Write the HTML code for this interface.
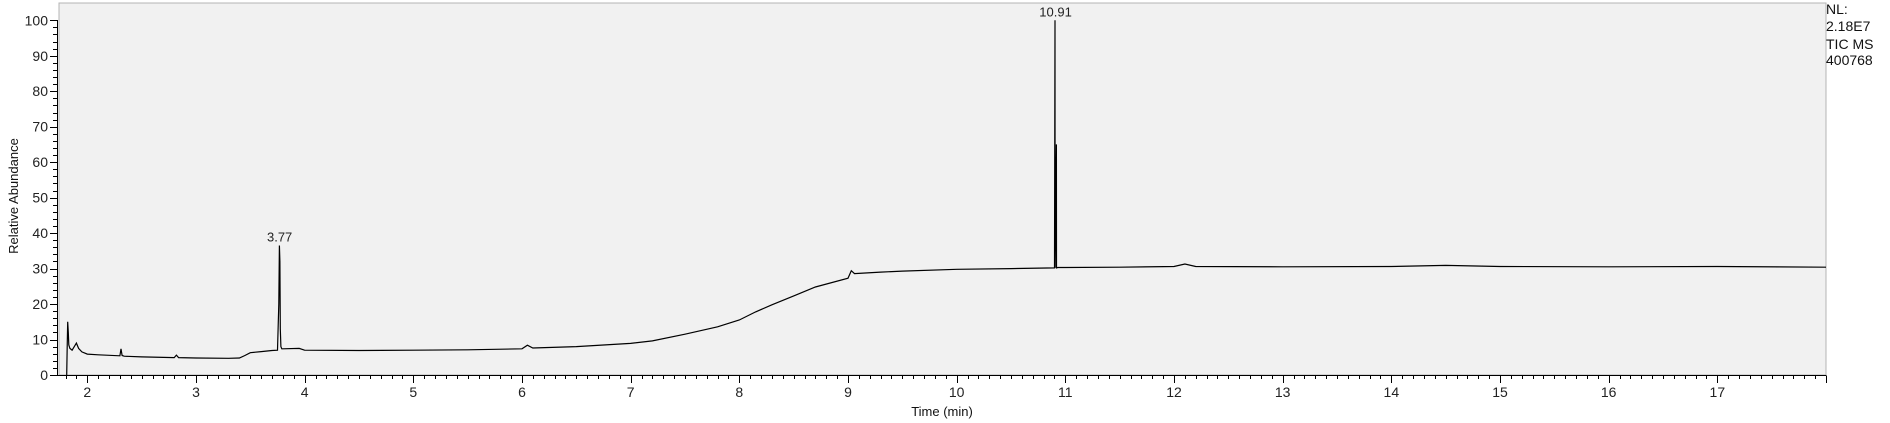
<!DOCTYPE html>
<html><head><meta charset="utf-8"><style>
html,body{margin:0;padding:0;background:#fff;}
svg{display:block;font-family:"Liberation Sans",sans-serif;}
</style></head><body>
<svg id="chart" width="1890" height="423">
<rect x="59" y="3" width="1767" height="372" fill="#f1f1f1" stroke="#b4b4b4" stroke-width="1"/>
<g id="axes"></g>
<path id="trace" fill="none" stroke="#000" stroke-width="1.2"/>
<g id="labels"></g>
<text x="1826" y="14" font-size="14" fill="#111">NL:</text>
<text x="1826" y="31" font-size="14" fill="#111">2.18E7</text>
<text x="1826" y="49" font-size="14" fill="#111">TIC  MS</text>
<text x="1826" y="65" font-size="14" fill="#111">400768</text>
<text x="942" y="416" font-size="13" text-anchor="middle" fill="#111">Time (min)</text>
<text transform="translate(18,196) rotate(-90)" font-size="13" text-anchor="middle" fill="#111">Relative Abundance</text>
</svg>
<script>
const times=[1.81,1.815,1.82,1.825,1.83,1.84,1.86,1.88,1.9,1.92,1.95,2.0,2.1,2.3,2.31,2.32,2.34,2.5,2.8,2.82,2.84,3.0,3.3,3.4,3.45,3.5,3.6,3.7,3.75,3.762,3.768,3.772,3.776,3.782,3.79,3.8,3.95,4.0,4.5,5.0,5.5,6.0,6.05,6.1,6.5,7.0,7.2,7.5,7.8,8.0,8.15,8.3,8.5,8.7,9.0,9.03,9.06,9.3,9.5,10.0,10.5,10.9,10.905,10.906,10.918,10.919,10.93,11.0,11.5,12.0,12.1,12.2,13.0,14.0,14.5,15.0,16.0,17.0,18.0];
const values=[0,8,15,12,8.5,7.5,7,8,9,7.5,6.5,5.9,5.7,5.4,7.4,5.5,5.3,5.1,4.9,5.6,4.9,4.8,4.7,4.8,5.5,6.3,6.6,6.9,7.0,20,36.5,32,13,8,7.4,7.4,7.5,7.0,6.9,7.0,7.1,7.4,8.4,7.6,8.0,8.9,9.6,11.5,13.6,15.5,17.8,19.8,22.3,24.8,27.3,29.4,28.6,29.0,29.3,29.8,30.0,30.2,100,30.2,65,30.2,30.3,30.3,30.4,30.6,31.3,30.6,30.5,30.6,30.9,30.6,30.5,30.6,30.4];
const peakTimes=[3.77,10.91];
const peakLabels=["3.77","10.91"];
const peakValues=[36.5,100];
const xTicks=[2,3,4,5,6,7,8,9,10,11,12,13,14,15,16,17];
const yTicks=[0,10,20,30,40,50,60,70,80,90,100];
const NS="http://www.w3.org/2000/svg";
function xs(t){return 87.3+(t-2)*108.67;}
function ys(v){return 375-v*3.547;}
function el(tag,attrs,parent){const e=document.createElementNS(NS,tag);for(const k in attrs)e.setAttribute(k,attrs[k]);parent.appendChild(e);return e;}
const axes=document.getElementById('axes');
let d='';
for(let i=0;i<times.length;i++){d+=(i?'L':'M')+xs(times[i]).toFixed(1)+' '+ys(values[i]).toFixed(1);}
document.getElementById('trace').setAttribute('d',d);
// axes lines
const yl=el('line',{x1:57.5,y1:20,x2:57.5,y2:375.5,stroke:'#000'},axes);


const xl=el('line',{x1:57,y1:375.5,x2:1826,y2:375.5,stroke:'#000'},axes);


let md='';
for(let v=0;v<=100;v+=2){const y=Math.round(ys(v))+0.5;md+='M'+(v%10===0?50:53)+' '+y+'H57.5';}
for(let t=1.8;t<=18.0001;t+=0.1){const x=Math.round(xs(t))+0.5;const maj=Math.abs(t-Math.round(t))<0.01;md+='M'+x+' 375.5V'+(maj?383:379);}
const tk=el('path',{d:md,stroke:'#000','stroke-width':1,fill:'none'},axes);


yTicks.forEach(v=>{const t=el('text',{x:48,y:ys(v)+5,'font-size':14,'text-anchor':'end',fill:'#222'},axes);t.textContent=v;

});
xTicks.forEach(v=>{const t=el('text',{x:xs(v),y:397,'font-size':14,'text-anchor':'middle',fill:'#222'},axes);t.textContent=v;

});
const lab=document.getElementById('labels');
peakTimes.forEach((p,i)=>{const t=el('text',{x:xs(p),y:ys(peakValues[i])-4,'font-size':13,'text-anchor':'middle',fill:'#222'},lab);t.textContent=peakLabels[i];

});
</script>
</body></html>
